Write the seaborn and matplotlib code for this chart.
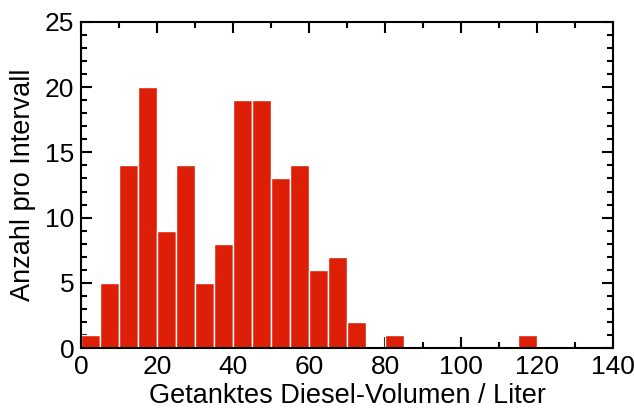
import numpy as np
import pandas as pd
import matplotlib
matplotlib.use("Agg")
import matplotlib.pyplot as plt
import seaborn as sns
from matplotlib.ticker import MultipleLocator

# Intervalle (untere Grenze, Liter) und Anzahl pro Intervall
bin_left = [0, 5, 10, 15, 20, 25, 30, 35, 40, 45, 50, 55, 60, 65, 70, 75, 80,
            85, 90, 95, 100, 105, 110, 115]
counts = [1, 5, 14, 20, 9, 14, 5, 8, 19, 19, 13, 14, 6, 7, 2, 0, 1,
          0, 0, 0, 0, 0, 0, 1]
bin_width = 5

df = pd.DataFrame({"mitte": np.array(bin_left) + bin_width / 2, "anzahl": counts})

sns.set_style("ticks")
plt.rcParams["font.family"] = ["Liberation Sans", "DejaVu Sans"]

fig = plt.figure(figsize=(6.34, 4.12), dpi=100)
ax = fig.add_axes([0.128, 0.155, 0.839, 0.792])

sns.histplot(data=df, x="mitte", weights="anzahl", binwidth=bin_width, binrange=(0, 120),
             color="#dd1f08", alpha=1, edgecolor="white", linewidth=1.0, ax=ax)

ax.set_xlim(0, 140)
ax.set_ylim(0, 25)
ax.xaxis.set_major_locator(MultipleLocator(20))
ax.xaxis.set_minor_locator(MultipleLocator(10))
ax.yaxis.set_major_locator(MultipleLocator(5))
ax.yaxis.set_minor_locator(MultipleLocator(1))
ax.tick_params(which="both", direction="in", top=True, right=True, width=1.5,
               labelsize=19, colors="black")
ax.tick_params(which="major", length=8, pad=5)
ax.tick_params(which="minor", length=4)
for s in ax.spines.values():
    s.set_visible(True)
    s.set_linewidth(1.5)
    s.set_color("black")

ax.set_xlabel("Getanktes Diesel-Volumen / Liter", fontsize=19.5, color="black", labelpad=3)
ax.set_ylabel("Anzahl pro Intervall", fontsize=19.5, color="black", labelpad=6)

fig.savefig("out.png", dpi=100)
